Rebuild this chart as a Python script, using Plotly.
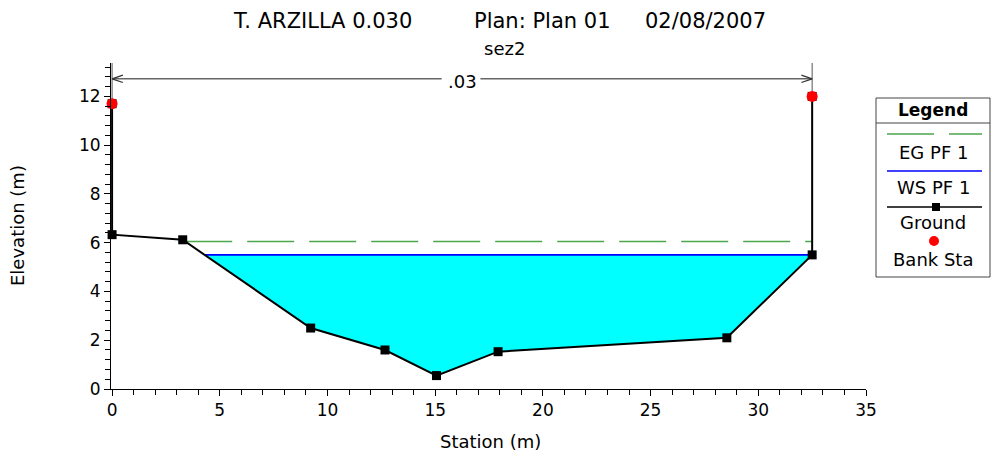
import numpy as np
import plotly.graph_objects as go

# ---------------- data ----------------
station = [0.0, 0.0, 3.28, 9.22, 12.67, 15.06, 17.92, 28.54, 32.5, 32.5]
elevation = [11.7, 6.33, 6.12, 2.5, 1.6, 0.55, 1.53, 2.1, 5.5, 12.0]
bank_station = [0.0, 32.5]
bank_elevation = [11.7, 12.0]
ws_pf1 = 5.5
eg_pf1 = 6.05
n_stations = [0.0, 32.5]
n_value_label = ".03"
n_label_elev = 12.72

title_parts = ["T. ARZILLA 0.030", "Plan: Plan 01", "02/08/2007"]
subtitle = "sez2"
legend_labels = ["EG PF 1", "WS PF 1", "Ground", "Bank Sta"]
x_title = "Station (m)"
y_title = "Elevation (m)"

# ---------------- helpers ----------------
W, H = 992, 461
ML, MR, MT, MB = 111, 126, 63, 72
XMIN, XMAX = -0.05, 35
YMAX = 13.37
FONT = "DejaVu Sans, Liberation Sans, Arial, sans-serif"


def px(xp):
    return (xp - ML) / (W - ML - MR)


def py(yp):
    return (H - MB - yp) / (H - MT - MB)


xs = np.array(station)
ys = np.array(elevation)
imin = int(np.argmin(ys))


def crossings(level):
    xl = xr = None
    il = ir = None
    for i in range(imin, 0, -1):
        if ys[i - 1] >= level >= ys[i]:
            xl = xs[i] + (level - ys[i]) * (xs[i - 1] - xs[i]) / (ys[i - 1] - ys[i])
            il = i
            break
    for i in range(imin, len(xs) - 1):
        if ys[i + 1] >= level >= ys[i]:
            xr = xs[i] + (level - ys[i]) * (xs[i + 1] - xs[i]) / (ys[i + 1] - ys[i])
            ir = i
            break
    return xl, il, xr, ir


fig = go.Figure()

# water fill
wl, il, wr, ir = crossings(ws_pf1)
poly_x = [wl] + list(xs[il:ir + 1]) + [wr, wl]
poly_y = [ws_pf1] + list(ys[il:ir + 1]) + [ws_pf1, ws_pf1]
fig.add_trace(go.Scatter(x=poly_x, y=poly_y, mode="lines", fill="toself",
                         fillcolor="#00FFFF", line=dict(width=0), showlegend=False,
                         hoverinfo="skip"))

# n-value delimiter lines (thin, from bank up to top)
for s, e in zip(n_stations, bank_elevation):
    fig.add_trace(go.Scatter(x=[s, s], y=[e, YMAX], mode="lines",
                             line=dict(color="#555555", width=1), showlegend=False,
                             hoverinfo="skip"))

# n-value arrow line
mid = (n_stations[0] + n_stations[1]) / 2
gap_l, gap_r = 0.95, 0.85
for a, b in [(n_stations[0], mid - gap_l), (mid + gap_r, n_stations[1])]:
    fig.add_trace(go.Scatter(x=[a, b], y=[n_label_elev, n_label_elev], mode="lines",
                             line=dict(color="#666666", width=1.5), showlegend=False,
                             hoverinfo="skip"))
dx, dy = 0.5, 0.15
fig.add_trace(go.Scatter(x=[n_stations[0] + dx, n_stations[0], n_stations[0] + dx],
                         y=[n_label_elev + dy, n_label_elev, n_label_elev - dy],
                         mode="lines", line=dict(color="#333333", width=1.2),
                         showlegend=False, hoverinfo="skip"))
fig.add_trace(go.Scatter(x=[n_stations[1] - dx, n_stations[1], n_stations[1] - dx],
                         y=[n_label_elev + dy, n_label_elev, n_label_elev - dy],
                         mode="lines", line=dict(color="#333333", width=1.2),
                         showlegend=False, hoverinfo="skip"))
fig.add_annotation(x=mid, y=n_label_elev, text=n_value_label, showarrow=False,
                   xanchor="center", yanchor="middle", yshift=-3,
                   font=dict(family=FONT, size=18, color="black"))

# EG line
el, _, er, _ = crossings(eg_pf1)
fig.add_trace(go.Scatter(x=[el, er], y=[eg_pf1, eg_pf1], mode="lines",
                         line=dict(color="#4CA64C", width=1.3, dash="47px,15px"),
                         name=legend_labels[0], showlegend=False))

# WS line
fig.add_trace(go.Scatter(x=[wl, wr], y=[ws_pf1, ws_pf1], mode="lines",
                         line=dict(color="#0000FF", width=1.6),
                         name=legend_labels[1], showlegend=False))

# ground
fig.add_trace(go.Scatter(x=station, y=elevation, mode="lines+markers",
                         line=dict(color="black", width=2),
                         marker=dict(symbol="square", size=9, color="black"),
                         cliponaxis=False,
                         name=legend_labels[2], showlegend=False))

# bank stations
fig.add_trace(go.Scatter(x=bank_station, y=bank_elevation, mode="markers",
                         marker=dict(symbol="circle", size=11, color="#FF0000"),
                         cliponaxis=False,
                         name=legend_labels[3], showlegend=False))

# ---------------- titles ----------------
title_center = [322, 542, 705]
for t, xc in zip(title_parts, title_center):
    fig.add_annotation(xref="paper", yref="paper", x=px(xc), y=py(21), text=t,
                       showarrow=False, xanchor="center", yanchor="middle",
                       font=dict(family=FONT, size=21, color="black"))
fig.add_annotation(xref="paper", yref="paper", x=px(505), y=py(48), text=subtitle,
                   showarrow=False, xanchor="center", yanchor="middle",
                   font=dict(family=FONT, size=18, color="black"))

# axis titles
fig.add_annotation(xref="paper", yref="paper", x=px(490), y=py(441), text=x_title,
                   showarrow=False, xanchor="center", yanchor="middle",
                   font=dict(family=FONT, size=18, color="black"))
fig.add_annotation(xref="paper", yref="paper", x=px(17), y=py(226), text=y_title,
                   showarrow=False, xanchor="center", yanchor="middle", textangle=-90,
                   font=dict(family=FONT, size=18, color="black"))

# ---------------- custom legend ----------------
LX0, LX1, LY0, LY1 = 876, 990, 98, 277
fig.add_shape(type="rect", xref="paper", yref="paper", x0=px(LX0), x1=px(LX1),
              y0=py(LY1), y1=py(LY0), line=dict(color="#444444", width=1),
              fillcolor="white", layer="above")
fig.add_shape(type="line", xref="paper", yref="paper", x0=px(LX0), x1=px(LX1),
              y0=py(123), y1=py(123), line=dict(color="#444444", width=1))
fig.add_annotation(xref="paper", yref="paper", x=px(933), y=py(110), text="<b>Legend</b>",
                   showarrow=False, xanchor="center", yanchor="middle",
                   font=dict(family=FONT, size=17, color="black"))
for a, b in [(887, 934), (949, 982)]:
    fig.add_shape(type="line", xref="paper", yref="paper", x0=px(a), x1=px(b),
                  y0=py(134), y1=py(134), line=dict(color="#4CA64C", width=1.3))
fig.add_shape(type="line", xref="paper", yref="paper", x0=px(887), x1=px(982),
              y0=py(171), y1=py(171), line=dict(color="#0000FF", width=1.6))
fig.add_shape(type="line", xref="paper", yref="paper", x0=px(887), x1=px(982),
              y0=py(207), y1=py(207), line=dict(color="black", width=1.3))
fig.add_shape(type="rect", xref="paper", yref="paper", x0=px(932), x1=px(940),
              y0=py(211), y1=py(203), line=dict(color="black", width=0),
              fillcolor="black")
fig.add_shape(type="circle", xref="paper", yref="paper", x0=px(929), x1=px(939),
              y0=py(246), y1=py(236), line=dict(color="#FF0000", width=0),
              fillcolor="#FF0000")
for lab, yy in zip(legend_labels, [152, 187, 222, 259]):
    fig.add_annotation(xref="paper", yref="paper", x=px(933), y=py(yy), text=lab,
                       showarrow=False, xanchor="center", yanchor="middle",
                       font=dict(family=FONT, size=18, color="black"))

# ---------------- axes ----------------
fig.update_xaxes(range=[XMIN, XMAX], showline=True, linecolor="black", linewidth=1,
                 ticks="outside", tickcolor="black", ticklen=6, tickwidth=1,
                 dtick=5, tick0=0, showgrid=False, zeroline=False,
                 minor=dict(dtick=1, tick0=0, ticks="outside", ticklen=5,
                            tickcolor="black", showgrid=False),
                 tickfont=dict(family=FONT, size=17, color="black"))
fig.update_yaxes(range=[0, YMAX], showline=True, linecolor="black", linewidth=1,
                 ticks="outside", tickcolor="black", ticklen=6, tickwidth=1,
                 dtick=2, tick0=0, showgrid=False, zeroline=False,
                 minor=dict(dtick=0.4, tick0=0, ticks="outside", ticklen=5,
                            tickcolor="black", showgrid=False),
                 tickfont=dict(family=FONT, size=17, color="black"))

fig.update_layout(width=W, height=H, margin=dict(l=ML, r=MR, t=MT, b=MB, pad=0),
                  plot_bgcolor="white", paper_bgcolor="white", showlegend=False)

fig.write_html("out.html")
